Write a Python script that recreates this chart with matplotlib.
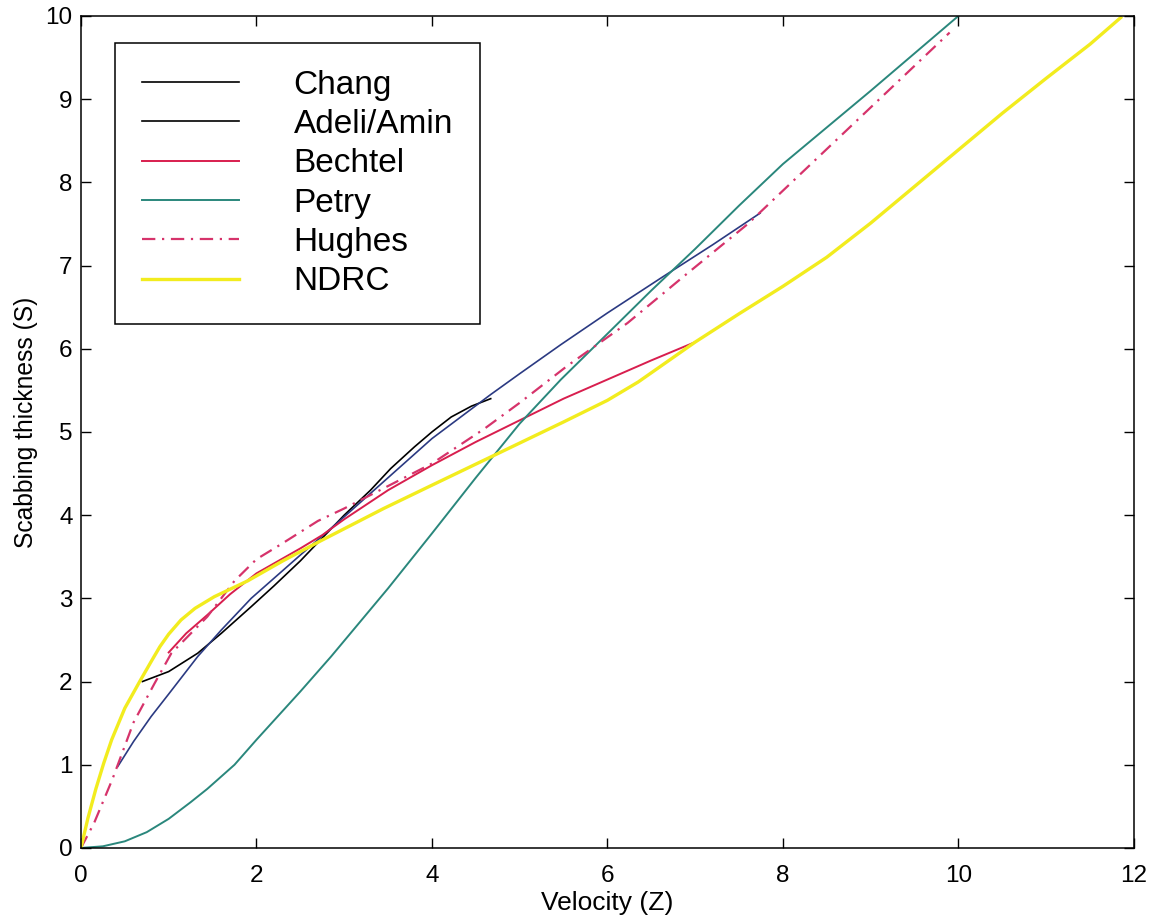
import matplotlib
matplotlib.use("Agg")
import matplotlib.pyplot as plt

plt.rcParams["font.family"] = ["Liberation Sans", "DejaVu Sans"]

# values
chang_x = [0.7, 1.0, 1.33, 1.6, 1.94, 2.2, 2.5, 2.8, 3.0, 3.3, 3.53, 3.8, 4.0, 4.22, 4.45, 4.67]
chang_y = [2.0, 2.12, 2.34, 2.58, 2.9, 3.15, 3.45, 3.78, 4.0, 4.3, 4.56, 4.82, 5.0, 5.18, 5.31, 5.4]

adeli_x = [0.42, 0.6, 0.8, 1.0, 1.33, 1.6, 1.94, 2.5, 3.0, 3.5, 4.0, 4.67, 5.0, 5.47, 6.0, 6.61, 7.2, 7.74]
adeli_y = [0.98, 1.28, 1.58, 1.85, 2.3, 2.62, 3.0, 3.52, 3.98, 4.45, 4.92, 5.45, 5.7, 6.05, 6.43, 6.85, 7.25, 7.63]

bechtel_x = [1.0, 1.2, 1.44, 1.7, 2.0, 2.5, 2.75, 3.0, 3.5, 4.0, 4.5, 5.0, 5.5, 6.0, 6.5, 7.0]
bechtel_y = [2.35, 2.58, 2.8, 3.05, 3.3, 3.6, 3.76, 3.95, 4.3, 4.6, 4.88, 5.14, 5.4, 5.63, 5.86, 6.08]

petry_x = [0, 0.25, 0.5, 0.75, 1.0, 1.25, 1.44, 1.75, 2.0, 2.5, 2.85, 3.5, 4.0, 4.5, 5.0, 5.47, 6.0, 6.5,
           7.0, 7.5, 8.0, 8.5, 9.0, 9.5, 10.0]
petry_y = [0, 0.02, 0.08, 0.19, 0.35, 0.55, 0.71, 1.0, 1.3, 1.88, 2.3, 3.12, 3.78, 4.45, 5.1, 5.63, 6.18, 6.7,
           7.2, 7.72, 8.22, 8.66, 9.1, 9.55, 10.0]

hughes_x = [0.0, 0.15, 0.36, 0.6, 0.84, 1.03, 1.44, 1.75, 2.0, 2.28, 2.7, 3.0, 3.5, 4.0, 4.6, 5.0, 5.55, 6.23, 6.87, 7.6, 8.2, 9.0, 9.9]
hughes_y = [0.0, 0.3, 0.83, 1.51, 1.98, 2.34, 2.78, 3.21, 3.47, 3.65, 3.93, 4.08, 4.35, 4.62, 5.04, 5.35, 5.8, 6.31, 6.87, 7.5, 8.1, 8.9, 9.8]

ndrc_x = [0, 0.08, 0.17, 0.26, 0.35, 0.5, 0.68, 0.8, 0.9, 1.0, 1.14, 1.3, 1.52, 1.9, 2.3, 2.73, 3.45, 4.0, 4.79,
          5.5, 6.0, 6.35, 7.0, 7.5, 8.0, 8.5, 9.0, 9.5, 10.0, 10.5, 11.0, 11.5, 11.85]
ndrc_y = [0, 0.36, 0.71, 1.02, 1.3, 1.68, 2.02, 2.24, 2.42, 2.57, 2.74, 2.88, 3.02, 3.21, 3.45, 3.69, 4.08, 4.36, 4.76,
          5.12, 5.38, 5.6, 6.08, 6.42, 6.75, 7.1, 7.51, 7.95, 8.39, 8.83, 9.25, 9.66, 9.98]

fig = plt.figure(figsize=(11.68, 9.21), dpi=100)
ax = fig.add_axes([0.0693, 0.0793, 0.9015, 0.9034])

ax.plot(chang_x, chang_y, color="black", lw=1.2, label="Chang")
ax.plot(adeli_x, adeli_y, color="#2b3a82", lw=1.2, label="Adeli/Amin")
ax.plot(bechtel_x, bechtel_y, color="#d81e4e", lw=1.4, label="Bechtel")
ax.plot(petry_x, petry_y, color="#2a877c", lw=1.4, label="Petry")
ax.plot(hughes_x, hughes_y, color="#d6336b", lw=1.6, ls=(0, (6, 3, 1, 3)), label="Hughes")
ax.plot(ndrc_x, ndrc_y, color="#f2ec1e", lw=2.4, label="NDRC")

ax.set_xlim(0, 12)
ax.set_ylim(0, 10)
ax.set_xticks(range(0, 13, 2))
ax.set_yticks(range(0, 11))
ax.tick_params(direction="in", length=7, width=1, top=True, right=True, labelsize=17.5)
ax.tick_params(axis="x", pad=12)
ax.tick_params(axis="y", pad=6)
for s in ax.spines.values():
    s.set_linewidth(1.1)

ax.set_xlabel("Velocity (Z)", fontsize=19, labelpad=3)
ax.set_ylabel("Scabbing thickness (S)", fontsize=17.7, labelpad=5.5)
ax.yaxis.label.set_y(0.511)

leg = ax.legend(loc="upper left", bbox_to_anchor=(0.0323, 0.9675), borderaxespad=0,
                fontsize=24, fancybox=False, framealpha=1, edgecolor="black",
                handlelength=2.91, handletextpad=1.65, labelspacing=0.25, borderpad=0.8)
leg.get_frame().set_linewidth(1.1)
leg.legend_handles[1].set_color("black")

fig.savefig("out.png", dpi=100)
